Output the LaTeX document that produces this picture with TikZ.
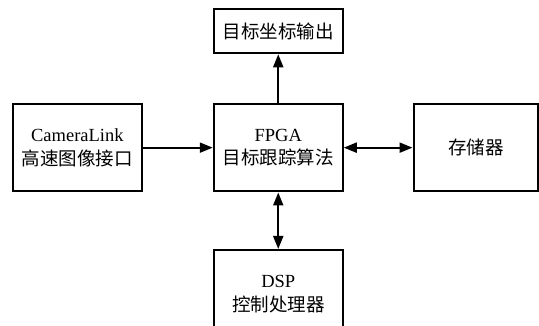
\documentclass[tikz,border=0pt]{standalone}
\usepackage{fontspec}
\setmainfont{Liberation Serif}
\newfontfamily\cjk{Noto Sans CJK SC}
\usetikzlibrary{arrows.meta}
\tikzset{
  blockbox/.style={draw=black, line width=2pt, fill=white, align=center,
    inner sep=0pt, font=\fontsize{18.5}{23.5}\selectfont},
  link/.style={line width=2pt, -{Triangle[length=13pt,width=10pt]}},
  dlink/.style={line width=2pt, {Triangle[length=13pt,width=10pt]}-{Triangle[length=13pt,width=10pt]}}
}
\begin{document}
\begin{tikzpicture}[x=1pt,y=-1pt]
\useasboundingbox[fill=white] (0,0) rectangle (539,326);
\node[blockbox, minimum width=129pt, minimum height=44pt] (out) at (278.25,31.3) {\cjk 目标坐标输出};
\node[blockbox, minimum width=129.3pt, minimum height=87.7pt] (cam) at (77.35,147.65) {CameraLink\\\cjk 高速图像接口};
\node[blockbox, minimum width=129pt, minimum height=87.7pt] (fpga) at (278.25,147.65) {FPGA\\\cjk 目标跟踪算法};
\node[blockbox, minimum width=124.5pt, minimum height=87.7pt] (mem) at (475.75,147.65) {\cjk 存储器};
\node[blockbox, minimum width=129pt, minimum height=88pt] (dsp) at (278.25,294) {DSP\\\cjk 控制处理器};
\draw[link] (fpga.north) -- (out.south);
\draw[link] (cam.east) -- (fpga.west);
\draw[dlink] (fpga.east) -- (mem.west);
\draw[dlink] (fpga.south) -- (dsp.north);
\end{tikzpicture}
\end{document}
